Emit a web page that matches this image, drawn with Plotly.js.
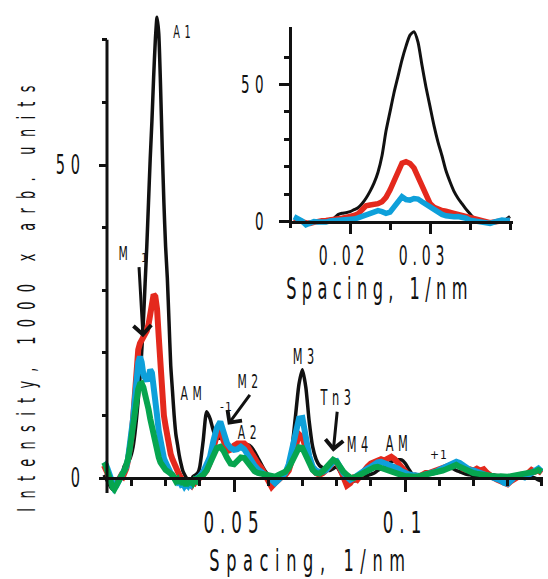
<!DOCTYPE html>
<html>
<head>
<meta charset="utf-8">
<script src="https://cdn.plot.ly/plotly-3.0.1.min.js"></script>
<style>
  html, body { margin: 0; padding: 0; background: #fff; }
  #chart { width: 548px; height: 579px; }
  .xtitle { letter-spacing: 11px; }
  .x2title { letter-spacing: 9px; }
  .ytitle { letter-spacing: 15.5px; }
  .xtick text { letter-spacing: 10px; }
  .ytick text { letter-spacing: 9.5px; }
  .x2tick text { letter-spacing: 8px; }
  .y2tick text { letter-spacing: 9px; }
  .annotation-text { letter-spacing: 7.5px; }
  .annotation-text[style*="font-size: 12px"] { letter-spacing: 1px; }
</style>
</head>
<body>
<div id="chart"></div>
<script>
// ---------- main panel data ----------
const spacing = [0.012,0.0125,0.013,0.0135,0.014,0.0145,0.015,0.0155,0.016,0.0165,0.017,0.0175,0.018,0.0185,0.019,0.0195,0.02,0.0205,0.021,0.0215,0.022,0.0225,0.023,0.0235,0.024,0.0245,0.025,0.0255,0.026,0.0265,0.027,0.0275,0.028,0.0285,0.029,0.0295,0.03,0.0305,0.031,0.0315,0.032,0.0325,0.033,0.0335,0.034,0.0345,0.035,0.0355,0.036,0.0365,0.037,0.0375,0.038,0.0385,0.039,0.0395,0.04,
0.041,0.042,0.043,0.044,0.045,0.046,0.047,0.048,0.049,0.05,0.051,0.052,0.053,0.054,0.055,0.056,0.057,0.058,0.059,0.06,0.061,0.062,0.063,0.064,0.065,0.066,0.067,0.068,0.069,0.07,0.071,0.072,0.073,0.074,0.075,0.076,0.077,0.078,0.079,0.08,0.081,0.082,0.083,0.084,0.085,0.086,0.087,0.088,0.089,0.09,0.091,0.092,0.093,0.094,0.095,0.096,0.097,0.098,0.099,0.1,0.101,0.102,0.103,0.104,0.105,0.106,0.107,0.108,0.109,0.11,0.111,0.112,0.113,0.114,0.115,0.116,0.117,0.118,0.119,0.12,0.121,0.122,0.123,0.124,0.125,0.126,0.127,0.128,0.129,0.13,0.131,0.132,0.133,0.134,0.135,0.136,0.137,0.138,0.139,0.14];

const blackMain = [0.5,0,-0.5,-1,-1.5,-1.8,-1.8,-1.5,-1,-0.3,0.5,1.2,2,2.3,2.6,3,3.8,5,7,9.5,12.5,16,20,25,31,37,44,51,57,64,70,73.6,71,63,53,44,37,32,25,18,14,10,7,5.3,3.6,2.3,1.2,0.6,0.1,-0.3,-0.4,-0.3,0.2,0.4,0.6,0.9,1.8,
6,10.6,9.5,7.5,6.3,6.4,6,5.5,5,4.8,4.8,5,5.2,5.3,5,4.2,3.2,2.2,1.2,0.5,0,-0.3,-0.2,0,0.5,1.8,5,10,15,17.3,14.5,9,5,3,2,1.6,1.3,1.2,1.5,1.8,1,0.2,-0.3,-0.5,-0.5,-0.3,0,0.2,0.4,0.6,0.8,1.2,1.5,1.8,2.2,2.6,2.8,2.9,2.9,2.4,1.5,0.7,0.3,0.2,0.3,0.5,0.6,0.7,0.8,1,1.2,1.4,1.6,1.5,1.2,1,0.8,0.6,0.5,0.4,0.3,0.3,0.3,0.4,0.5,0.5,0.4,0.3,0.2,0.2,0.3,0.4,0.5,0.6,0.8,0.5,0.2,0,-0.3,-0.5];

const redMain = [2,1.5,0.8,0,-0.8,-1.2,-1.5,-1,-0.6,0,0.4,0.2,0.8,1.5,2.8,4.5,6.5,9.5,13.5,18,20.5,21.5,22,22.3,22.8,23.5,24.5,26.5,28.5,29.3,29,27,22.5,17,12.5,10,8.3,6.5,5,3.8,3,2.2,1.5,1,0.5,0,-0.5,-0.8,-1,-0.7,-0.9,-1.2,-0.6,-0.8,-0.4,-0.3,0,
0.5,1.2,2.5,4.5,7,7.5,5.5,4.3,4.5,5.2,5.5,5.6,5.5,5,4,3,2.3,1.6,0.5,-0.5,-1.4,-0.8,-0.2,0.2,0.5,1.2,3,5,7,6.5,4.5,2.5,1.4,0.8,0.5,0.8,1.2,1.8,2.6,2.5,1.5,0.2,-1.2,-0.8,0,-0.3,0.5,1.2,1.8,2.3,2.6,2.9,3,2.8,3.2,3.4,3,2.3,1.6,1,0.5,0.2,0.4,0.2,0.6,0.8,0.8,1,1.2,1.3,1.5,1.6,1.8,2,2.4,2.2,1.5,1.3,1.4,1.2,1.5,1.2,1.4,0.8,0.3,0,-0.3,-0.5,-0.9,-1,-0.5,-0.2,0.3,0.5,0.3,0.8,1.3,1,1.2,0.8];

const blueMain = [2.5,2.2,1.5,0.5,-0.5,-1.2,-1.6,-1.3,-0.8,-0.2,0.3,0.5,1,1.8,3,4.8,7,9.5,12.5,16,18.5,19.4,18.5,16.5,15.8,15.5,16.2,17.3,16.8,14.8,13.5,10,7.5,5.5,4.2,3.2,2.5,1.8,1.2,0.8,0.4,0,-0.4,-0.7,-0.5,-1,-0.8,-1.3,-0.9,-1.2,-0.6,-1,-0.5,-0.3,0,0.2,0.3,
1,2,3.4,6,8,9,7,5.5,4.8,4.5,4.6,5,4.6,3.6,2.8,2,1.4,1,0.7,0.3,-0.3,-0.8,-0.3,0.2,0.8,2.2,4.5,7,9.5,9.6,6.5,3.5,1.8,1.2,1,1,1.3,1.8,2.6,2.7,1.6,0.8,0.2,-0.3,0,0.4,0.9,1.2,1.5,1.8,2.2,2.5,2.6,2.4,2.3,2,1.8,1.5,1.1,0.8,0.6,0.5,0.4,0.5,0.3,0.6,0.7,0.9,1,1.3,1.6,1.8,2,2.3,2.6,2.4,2,1.6,1.3,1.2,1,0.8,0.7,0.5,0.3,0.2,0,-0.4,-0.8,-0.9,-0.4,0.1,0.2,0.3,0.1,0.4,0.8,1.2,1.5,1];

const greenMain = [2.5,2,1,0,-0.8,-1.5,-1.8,-1.2,-0.5,0,0.5,0.8,1.2,2,3,4.5,6.5,8.5,11,12.8,14.2,15,15.1,14.5,13.5,12,11,9.5,8,6.5,5.3,4.2,3.3,2.5,2,1.6,1.3,1.1,0.9,0.7,0.5,0,-0.5,-0.2,-0.8,-0.4,-1,-0.5,-1.2,-0.6,-1,-0.4,-0.8,-0.3,-0.5,0,0.2,
0.5,1.2,2.3,3.8,4.8,5,4.3,3.2,2.3,2.2,2.7,3.3,3.2,2.4,1.6,1.1,0.8,0.7,0.6,0.5,0.4,0.2,0.5,0.8,1,1.6,2.6,4,4.9,4.8,3.5,2.2,1.3,0.8,0.7,1.1,1.6,2.3,2.9,2.6,1.7,1,0.5,0.1,0,0.3,0.6,0.8,1.1,1.4,1.7,1.8,1.6,1.4,1.3,1,0.7,0.5,0.4,0.3,0.3,0.2,0.2,0.3,0.4,0.5,0.6,0.7,0.8,1,1.2,1.4,1.6,1.9,2.1,1.8,1.5,1.2,1,0.8,0.7,0.6,0.5,0.3,0.2,0.2,0.2,0.3,0.2,0.2,0.3,0.4,0.5,0.6,0.7,0.8,0.8,1,1.3,1];

// ---------- inset data ----------
const insetSpacing = [0.013,0.0135,0.014,0.0145,0.015,0.0155,0.016,0.0165,0.017,0.0175,0.018,0.0185,0.019,0.0195,0.02,0.0205,0.021,0.0215,0.022,0.0225,0.023,0.0235,0.024,0.0245,0.025,0.0255,0.026,0.0265,0.027,0.0275,0.028,0.0285,0.029,0.0295,0.03,0.0305,0.031,0.0315,0.032,0.0325,0.033,0.0335,0.034,0.0345,0.035,0.0355,0.036,0.0365,0.037,0.0375,0.038,0.0385,0.039,0.0395,0.04];
const blackInset = [0.5,0.3,0,-0.3,-0.2,0,0.2,0.3,0.5,0.8,1.2,2.5,3,3.2,3.6,4.3,5,6.5,8.5,11,14,18,24,33,40,47,53,59,64,68,69.3,65.5,57,49,42,35,29,24,18.5,14.5,11,8.5,6.5,4.5,2.8,1.2,0.3,0,0,-0.3,0,0.2,0.3,0.8,1.8];
const redInset = [1,0.3,0,-0.5,-0.7,-0.3,0.2,0.3,0.4,0.5,0.6,0.9,1.2,1.5,1.75,2.2,2.8,4.2,5.7,6,6.2,6.5,7.2,8.8,11.5,14.5,18.5,21.3,21.8,21.2,19.5,16,12.5,9.5,6.6,5.2,4.4,4,3.8,3.6,3,2.6,2.2,1.7,1.2,0.8,0.5,0.3,0,-0.4,-0.2,0.2,0.3,0.3,0.5];
const blueInset = [1.75,1,0.2,-1.2,-0.8,0,-0.2,-0.4,-0.2,0.2,0.3,0.2,0.3,0.3,0.6,0.9,1.3,1.8,2.4,3.2,3.8,4,3.6,3,3.4,5.5,7.5,9,8,7.8,8.4,8.2,7.2,6.2,5.2,4.2,3.4,2.6,2.1,1.8,1.75,1.8,1.7,1.2,0.5,0.2,0,-0.3,-0.6,-0.7,-0.2,0.3,0.5,0.4,0.5];

// ---------- ticks / labels ----------
const mainXTicks = [0.05, 0.1];
const mainXTickText = ['0.05', '0.1'];
const mainXMinor = [0.02, 0.03, 0.04, 0.06, 0.07, 0.08, 0.09, 0.11, 0.12, 0.13, 0.14];
const mainYTicks = [0, 50];
const mainYTickText = ['0', '50'];
const mainYMinor = [10, 20, 30, 40, 60, 70];
const insetXTicks = [0.02, 0.03];
const insetXTickText = ['0.02', '0.03'];
const insetXMinor = [0.025, 0.035, 0.04];
const insetYTicks = [0, 50];
const insetYTickText = ['0', '50'];
const insetYMinor = [10, 20, 30, 40, 60];

const FONT = "'DejaVu Sans Condensed', 'DejaVu Sans', sans-serif";
const SQUEEZE = 0.6;
const C_BLACK = '#111111', C_RED = '#e4291d', C_BLUE = '#0ea0da', C_GREEN = '#06a54f';

const traces = [
  {x: spacing, y: blackMain, mode: 'lines', line: {color: C_BLACK, width: 3.5, shape: 'spline', smoothing: 0.6}, xaxis: 'x', yaxis: 'y'},
  {x: spacing, y: redMain, mode: 'lines', line: {color: C_RED, width: 6}, xaxis: 'x', yaxis: 'y'},
  {x: spacing, y: blueMain, mode: 'lines', line: {color: C_BLUE, width: 6}, xaxis: 'x', yaxis: 'y'},
  {x: spacing, y: greenMain, mode: 'lines', line: {color: C_GREEN, width: 6}, xaxis: 'x', yaxis: 'y'},
  {x: insetSpacing, y: blackInset, mode: 'lines', line: {color: C_BLACK, width: 3, shape: 'spline', smoothing: 0.6}, xaxis: 'x2', yaxis: 'y2'},
  {x: insetSpacing, y: redInset, mode: 'lines', line: {color: C_RED, width: 5.5}, xaxis: 'x2', yaxis: 'y2'},
  {x: insetSpacing, y: blueInset, mode: 'lines', line: {color: C_BLUE, width: 5.5}, xaxis: 'x2', yaxis: 'y2'}
];

function label(text, x, y, size, xr, yr) {
  return {text: text, x: x, y: y, xref: xr || 'x', yref: yr || 'y', showarrow: false,
          font: {family: FONT, size: size, color: '#111'}, xanchor: 'center', yanchor: 'middle'};
}
// label with an arrow: (x, y) is the arrow tip, (ax, ay) the pixel offset of the arrow tail,
// the label box sits against the tail
function arrowLabel(text, x, y, ax, ay, size, xanchor) {
  return {text: text, x: x, y: y, xref: 'x', yref: 'y', showarrow: true, ax: ax, ay: ay,
          xanchor: xanchor || 'center', yanchor: 'bottom',
          font: {family: FONT, size: size, color: '#111'},
          arrowhead: 4, arrowsize: 1.15, arrowwidth: 3, arrowcolor: '#111', standoff: 0, startstandoff: 0};
}

const annotations = [
  label('A1', 0.0354, 71.4, 18),
  label('M', 0.0184, 36.0, 20),
  arrowLabel('1', 0.0234, 22.5, -4, -70, 12, 'left'),
  label('AM', 0.0383, 13.6, 20),
  label('-1', 0.0477, 11.4, 12),
  arrowLabel('M2', 0.0482, 8.5, 22, -30, 20),
  label('A2', 0.0544, 7.3, 20),
  label('M3', 0.0708, 19.3, 21),
  arrowLabel('Tn3', 0.0790, 4.2, 4, -40, 21),
  label('M4', 0.0868, 5.3, 21),
  label('AM', 0.0983, 5.4, 21),
  label('+1', 0.1098, 3.7, 12),
  label('A1', 0.0275, 73.9, 18, 'x2', 'y2')
];

const axisCommon = {showgrid: false, zeroline: false, ticks: 'outside', tickwidth: 3, tickcolor: '#111',
                    linecolor: '#111', linewidth: 3, fixedrange: true};

const layout = {
  width: 548, height: 579,
  margin: {l: 0, r: 0, t: 0, b: 0},
  paper_bgcolor: '#fff', plot_bgcolor: 'rgba(0,0,0,0)',
  showlegend: false,
  font: {family: FONT, color: '#111'},
  xaxis: Object.assign({}, axisCommon, {
    domain: [100/548, 543/548], range: [0.010819, 0.140351],
    anchor: 'free', position: (579-478)/579, showline: true,
    tickmode: 'array', tickvals: mainXTicks, ticktext: mainXTickText, ticklen: 12,
    ticklabelstandoff: 4,
    tickfont: {family: FONT, size: 31, color: '#111'},
    minor: {tickmode: 'array', tickvals: mainXMinor, ticks: 'outside', ticklen: 6, tickwidth: 3, tickcolor: '#111', showgrid: false},
    title: {text: 'Spacing, 1/nm', font: {family: FONT, size: 30, color: '#111'}, standoff: 10}
  }),
  yaxis: Object.assign({}, axisCommon, {
    domain: [3/579, 567/579], range: [-15.65, 74.44],
    anchor: 'free', position: 107/548, showline: false,
    tickmode: 'array', tickvals: mainYTicks, ticktext: mainYTickText, ticklen: 8,
    ticklabelstandoff: 8,
    tickfont: {family: FONT, size: 27, color: '#111'},
    minor: {tickmode: 'array', tickvals: mainYMinor, ticks: 'outside', ticklen: 5, tickwidth: 3, tickcolor: '#111', showgrid: false},
    title: {text: 'Intensity, 1000 x arb. units', font: {family: FONT, size: 24, color: '#111'}, standoff: 4}
  }),
  xaxis2: Object.assign({}, axisCommon, {
    domain: [292/548, 513/548], range: [0.01275, 0.040375],
    anchor: 'free', position: (579-221.5)/579, showline: true,
    tickmode: 'array', tickvals: insetXTicks, ticktext: insetXTickText, ticklen: 10,
    ticklabelstandoff: 0, ticklabelshift: -6,
    tickfont: {family: FONT, size: 26, color: '#111'},
    minor: {tickmode: 'array', tickvals: insetXMinor, ticks: 'outside', ticklen: 6, tickwidth: 3, tickcolor: '#111', showgrid: false},
    title: {text: 'Spacing, 1/nm', font: {family: FONT, size: 30, color: '#111'}, standoff: 2}
  }),
  yaxis2: Object.assign({}, axisCommon, {
    domain: [(579-228)/579, (579-27)/579], range: [-2.37, 70.99],
    anchor: 'x2', showline: true,
    tickmode: 'array', tickvals: insetYTicks, ticktext: insetYTickText, ticklen: 10,
    ticklabelstandoff: 5,
    tickfont: {family: FONT, size: 25, color: '#111'},
    minor: {tickmode: 'array', tickvals: insetYMinor, ticks: 'outside', ticklen: 5, tickwidth: 3, tickcolor: '#111', showgrid: false}
  }),
  shapes: [
    {type: 'line', xref: 'paper', yref: 'y', x0: 107/548, x1: 107/548, y0: -2.4, y1: 70,
     line: {color: '#111', width: 3}}
  ],
  annotations: annotations
};

// horizontal offsets of the axis titles, as placed in the original figure
const TITLE_SHIFT = {xtitle: -11, x2title: -23, ytitle: 12};

// narrow, tall lettering like the original figure: compress each text run horizontally
function squeezeText() {
  document.querySelectorAll('#chart svg.main-svg text').forEach(function (t) {
    var fs = parseFloat(window.getComputedStyle(t).fontSize) || 0;
    var len = t.getComputedTextLength();
    if (len > 0 && fs >= 14) {
      t.setAttribute('textLength', (len * SQUEEZE).toFixed(2));
      t.setAttribute('lengthAdjust', 'spacingAndGlyphs');
    }
  });
  Object.keys(TITLE_SHIFT).forEach(function (cls) {
    document.querySelectorAll('#chart svg.main-svg text.' + cls).forEach(function (t) {
      var dx = TITLE_SHIFT[cls];
      var x = parseFloat(t.getAttribute('x')) + dx;
      var y = parseFloat(t.getAttribute('y'));
      t.setAttribute('x', x.toFixed(2));
      var tr = t.getAttribute('transform') || '';
      if (/rotate/.test(tr)) t.setAttribute('transform', 'rotate(-90,' + x.toFixed(2) + ',' + y.toFixed(2) + ')');
    });
  });
}

Plotly.newPlot('chart', traces, layout, {staticPlot: true, displayModeBar: false}).then(squeezeText);
</script>
</body>
</html>
